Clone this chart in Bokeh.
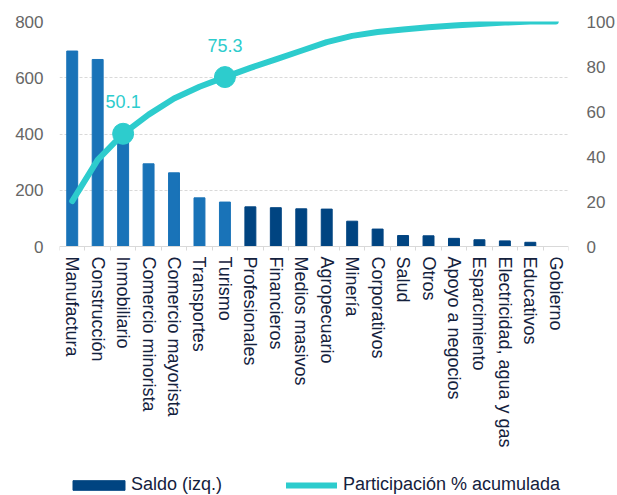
from bokeh.plotting import figure
from bokeh.models import Range1d, LinearAxis, FixedTicker, Legend, LegendItem, ColumnDataSource
from bokeh.core.properties import value
from bokeh.embed import file_html
from bokeh.resources import INLINE

categories = ["Manufactura", "Construcción", "Inmobiliario", "Comercio minorista",
              "Comercio mayorista", "Transportes", "Turismo", "Profesionales",
              "Financieros", "Medios masivos", "Agropecuario", "Minería",
              "Corporativos", "Salud", "Otros", "Apoyo a negocios", "Esparcimiento",
              "Electricidad, agua y gas", "Educativos", "Gobierno"]
saldo = [695, 665, 405, 294, 262, 173, 158, 141, 138, 134, 133, 90, 62, 39, 38, 29, 24, 20, 15, 0]
participacion = [20.2, 38.5, 50.1, 58.6, 65.8, 71.0, 75.3, 79.4, 83.2, 87.0, 90.8, 93.6,
                 95.3, 96.4, 97.4, 98.2, 98.9, 99.5, 100.0, 100.0]
destacado = [1, 1, 1, 1, 1, 1, 1, 0, 0, 0, 0, 0, 0, 0, 0, 0, 0, 0, 0, 0]
marcados = ["Inmobiliario", "Turismo"]
left_ticks = [0, 200, 400, 600, 800]
right_ticks = [0, 20, 40, 60, 80, 100]

FONT = "Liberation Sans"
C_DARK = "#004481"
C_LIGHT = "#1973B8"
C_TURQ = "#2DCCCD"
C_TEXT = "#14213D"
C_TICK = "#666666"
C_GRID = "#D9D9D9"

# layout: plot frame runs from the top margin to the bottom of the figure;
# the value axis occupies the upper PLOT_H pixels, labels + legend sit below zero.
W, H = 617, 495
TOP, LEFT, RIGHT = 21, 59, 48
PLOT_H = 225
FRAME_H = H - TOP
below_frac = (FRAME_H - PLOT_H) / PLOT_H

xs = list(range(len(categories)))
src_light = ColumnDataSource(dict(x=[x for x, d in zip(xs, destacado) if d],
                                  y=[s for s, d in zip(saldo, destacado) if d]))
src_dark = ColumnDataSource(dict(x=[x for x, d in zip(xs, destacado) if not d],
                                 y=[s for s, d in zip(saldo, destacado) if not d]))
idx_m = [categories.index(c) for c in marcados]
src_mark = ColumnDataSource(dict(x=idx_m, y=[participacion[i] for i in idx_m],
                                 t=["%.1f" % participacion[i] for i in idx_m]))

p = figure(width=W, height=H, x_range=Range1d(-0.5, len(categories) - 0.5),
           y_range=Range1d(-left_ticks[-1] * below_frac, left_ticks[-1]),
           output_backend="svg", toolbar_location=None,
           min_border_left=LEFT, min_border_right=RIGHT, min_border_top=TOP, min_border_bottom=0)
p.extra_y_ranges = {"pct": Range1d(-right_ticks[-1] * below_frac, right_ticks[-1])}
p.outline_line_color = None
p.background_fill_color = "white"
p.border_fill_color = "white"

p.xgrid.visible = False
p.ygrid.ticker = FixedTicker(ticks=left_ticks[1:])
p.ygrid.grid_line_color = C_GRID
p.ygrid.grid_line_dash = "3 2"

# x axis drawn at zero
xa = p.xaxis[0]
xa.fixed_location = 0
xa.ticker = FixedTicker(ticks=xs, minor_ticks=[x - 0.5 for x in xs] + [xs[-1] + 0.5])
xa.major_label_overrides = {i: c for i, c in enumerate(categories)}
xa.major_label_orientation = "vertical"
xa.major_tick_line_color = None
xa.major_tick_out = 4
xa.major_tick_in = 0
xa.minor_tick_line_color = C_GRID
xa.minor_tick_out = 4
xa.minor_tick_in = 0
xa.axis_line_color = C_GRID
xa.major_label_standoff = 6
xa.major_label_text_font = FONT
xa.major_label_text_font_size = "18px"
xa.major_label_text_color = C_TEXT

# left axis
ya = p.yaxis[0]
ya.ticker = FixedTicker(ticks=left_ticks)
ya.axis_line_color = None
ya.major_tick_line_color = None
ya.minor_tick_line_color = None
ya.major_tick_out = 0
ya.major_tick_in = 0
ya.major_label_standoff = 16
ya.major_label_text_font = FONT
ya.major_label_text_font_size = "17px"
ya.major_label_text_color = C_TICK

# right axis
ra = LinearAxis(y_range_name="pct", ticker=FixedTicker(ticks=right_ticks))
ra.axis_line_color = None
ra.major_tick_line_color = None
ra.minor_tick_line_color = None
ra.major_tick_out = 0
ra.major_tick_in = 0
ra.major_label_standoff = 18
ra.major_label_text_font = FONT
ra.major_label_text_font_size = "17px"
ra.major_label_text_color = C_TICK
p.add_layout(ra, "right")

r_light = p.vbar(x="x", top="y", width=0.43, source=src_light, color=C_LIGHT)
r_dark = p.vbar(x="x", top="y", width=0.43, source=src_dark, color=C_DARK)
r_line = p.line(xs, participacion, y_range_name="pct", line_color=C_TURQ, line_width=6,
                line_cap="round", line_join="round")
p.scatter("x", "y", source=src_mark, y_range_name="pct", size=21,
          fill_color=C_TURQ, line_color=C_TURQ)
p.text("x", "y", text="t", source=src_mark, y_range_name="pct", y_offset=-32,
       text_align="center", text_baseline="middle", text_color=C_TURQ,
       text_font=value(FONT), text_font_size="18px")

def mk_legend(item, loc, gw, gh, standoff):
    return Legend(items=[item], location=loc, glyph_width=gw, glyph_height=gh,
                  label_standoff=standoff, padding=0, margin=0, spacing=0,
                  label_height=20, border_line_color=None, background_fill_alpha=0,
                  label_text_font=FONT, label_text_font_size="18px",
                  label_text_color=C_TEXT)

p.add_layout(mk_legend(LegendItem(label="Saldo (izq.)", renderers=[r_dark]), (7, 0), 65, 12, 0))
p.add_layout(mk_legend(LegendItem(label="Participación % acumulada", renderers=[r_line]), (227, 0), 51, 20, 6))

open("out.html", "w").write(file_html(p, INLINE))
